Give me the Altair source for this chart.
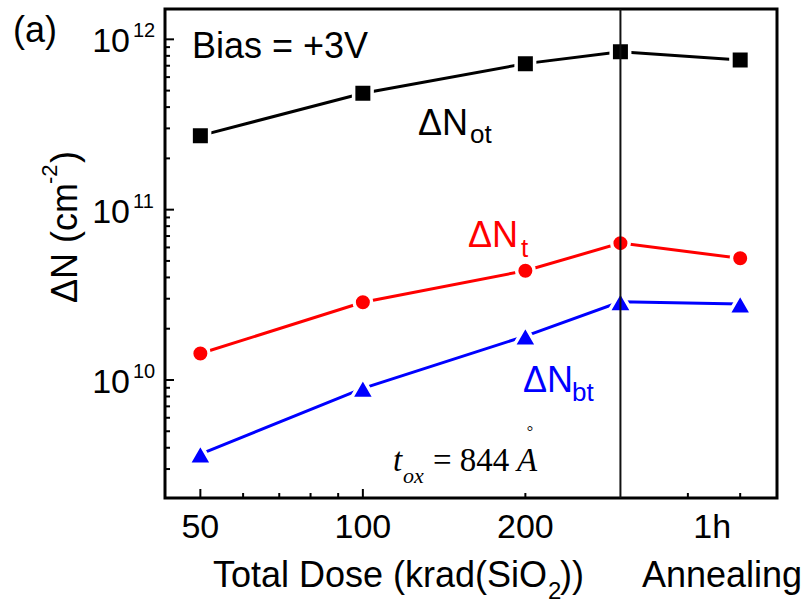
import altair as alt
import pandas as pd

# ---- data ----
doses = [50, 100, 200, 300, 500]          # 500 = slot of "1h" annealing
n_ot = [2.72e11, 4.82e11, 7.2e11, 8.46e11, 7.56e11]
n_t = [1.43e10, 2.86e10, 4.38e10, 6.36e10, 5.18e10]
n_bt = [3.67e9, 8.93e9, 1.81e10, 2.88e10, 2.79e10]

series_names = ["ot", "t", "bt"]
series_colors = ["#000000", "#ff0000", "#0000ff"]
series_shapes = ["square", "circle", "triangle-up"]
series_sizes = [342, 306, 560]

divider = [300]
x_tick_labels = ["50", "100", "200"]
x_tick_label_vals = [50, 100, 200]
anneal_label = ["1h"]
anneal_val = [500]
x_major_ticks = [50, 100]
x_minor_ticks = [60, 70, 80, 90, 200, 400, 500]
y_major_ticks = [1e10, 1e11, 1e12]
y_minor_ticks = [k * 10.0 ** e for e in (9, 10, 11) for k in range(2, 10) if k * 10.0 ** e >= 2.03e9]
y_exponents = ["10", "11", "12"]

W, H = 612, 489
SANS = "Liberation Sans"
SERIF = "Liberation Serif"

rows = []
for name, vals in zip(series_names, [n_ot, n_t, n_bt]):
    for d, v in zip(doses, vals):
        rows.append({"dose": d, "value": v, "series": name})
df = pd.DataFrame(rows)

xs = alt.Scale(type="log", domain=[43, 585], nice=False)
ys = alt.Scale(type="log", domain=[2.028e9, 1.507e12], nice=False)
X = lambda f: alt.X(f, scale=xs, axis=None)
Y = lambda f: alt.Y(f, scale=ys, axis=None)

lines = alt.Chart(df).mark_line(strokeWidth=3).encode(
    x=X("dose:Q"), y=Y("value:Q"),
    color=alt.Color("series:N", scale=alt.Scale(domain=series_names, range=series_colors), legend=None),
)

point_layers = []
for name, col, shp, sz in zip(series_names, series_colors, series_shapes, series_sizes):
    point_layers.append(
        alt.Chart(df).transform_filter(alt.datum.series == name).mark_point(
            filled=True, opacity=1, shape=shp, size=sz, fill=col, stroke="white",
            strokeWidth=3.5, strokeJoin="round").encode(x=X("dose:Q"), y=Y("value:Q"))
    )

vline = alt.Chart(pd.DataFrame({"d": divider})).mark_rule(color="#111111", strokeWidth=2).encode(x=X("d:Q"))

ytick_major = alt.Chart(pd.DataFrame({"v": y_major_ticks})).mark_rule(color="black", strokeWidth=2).encode(
    y=Y("v:Q"), x=alt.value(0), x2=alt.value(9))
ytick_minor = alt.Chart(pd.DataFrame({"v": y_minor_ticks})).mark_rule(color="black", strokeWidth=2).encode(
    y=Y("v:Q"), x=alt.value(0), x2=alt.value(5))
xtick_major = alt.Chart(pd.DataFrame({"v": x_major_ticks})).mark_rule(color="black", strokeWidth=2).encode(
    x=X("v:Q"), y=alt.value(H), y2=alt.value(H - 9))
xtick_minor = alt.Chart(pd.DataFrame({"v": x_minor_ticks})).mark_rule(color="black", strokeWidth=2).encode(
    x=X("v:Q"), y=alt.value(H), y2=alt.value(H - 5))

xlabels = alt.Chart(pd.DataFrame({"v": x_tick_label_vals, "t": x_tick_labels})).mark_text(
    font=SANS, fontSize=34, align="center", baseline="alphabetic", color="black").encode(
    x=X("v:Q"), y=alt.value(529), text="t:N")
anneal = alt.Chart(pd.DataFrame({"v": anneal_val, "t": anneal_label})).mark_text(
    font=SANS, fontSize=34, align="center", baseline="alphabetic", color="black", dx=-28).encode(
    x=X("v:Q"), y=alt.value(529), text="t:N")

ylab_df = pd.DataFrame({"v": y_major_ticks, "base": ["10"] * 3, "e": y_exponents})
ylab_base = alt.Chart(ylab_df).mark_text(font=SANS, fontSize=34, align="right", baseline="alphabetic",
                                         color="black", dy=13).encode(
    y=Y("v:Q"), x=alt.value(-35), text="base:N")
ylab_exp = alt.Chart(ylab_df).mark_text(font=SANS, fontSize=20, align="left", baseline="alphabetic",
                                        color="black", dy=-2).encode(
    y=Y("v:Q"), x=alt.value(-32), text="e:N")


def txt(s, x, y, size, color="black", font=SANS, style="normal", align="left", angle=0):
    return alt.Chart(pd.DataFrame({"t": [s]})).mark_text(
        align=align, baseline="alphabetic", font=font, fontSize=size, fontStyle=style,
        color=color, angle=angle).encode(text="t:N", x=alt.value(x), y=alt.value(y))


texts = [
    txt("(a)", -152, 33, 36),
    txt("Bias = +3V", 27, 49, 36),
    txt("ΔN", 253, 126, 36),
    txt("ot", 305, 134, 26),
    txt("ΔN", 303, 238, 36, color="#ff0000"),
    txt("t", 356, 248, 26, color="#ff0000"),
    txt("ΔN", 358, 383, 36, color="#0000ff"),
    txt("bt", 407, 392, 26, color="#0000ff"),
    txt("t", 228, 462, 33, font=SERIF, style="italic"),
    txt("ox", 238, 474, 22, font=SERIF, style="italic"),
    txt("= 844", 268, 462, 33, font=SERIF),
    txt("A", 352, 462, 33, font=SERIF, style="italic"),
    txt("°", 365, 428, 16, font=SERIF, align="center"),
    # x title
    txt("Total Dose (krad(SiO", 382, 578, 36, align="right"),
    txt("2", 383, 590, 24),
    txt("))", 395, 578, 36),
    txt("Annealing", 477, 578, 36),
    # y title (rotated)
    txt("ΔN (cm", -88, 294, 36, angle=270),
    txt("-2", -108, 175, 22, angle=270),
    txt(")", -88, 154, 36, angle=270),
]

chart = alt.layer(
    ytick_minor, ytick_major, xtick_minor, xtick_major,
    lines, *point_layers, vline,
    xlabels, anneal, ylab_base, ylab_exp,
    *texts,
).properties(
    width=W, height=H, autosize="none",
    padding={"left": 165, "top": 9, "right": 28, "bottom": 106},
    background="white",
).configure_view(stroke="black", strokeWidth=3)

chart.save("out.html", embed_options={"renderer": "svg", "actions": False})
